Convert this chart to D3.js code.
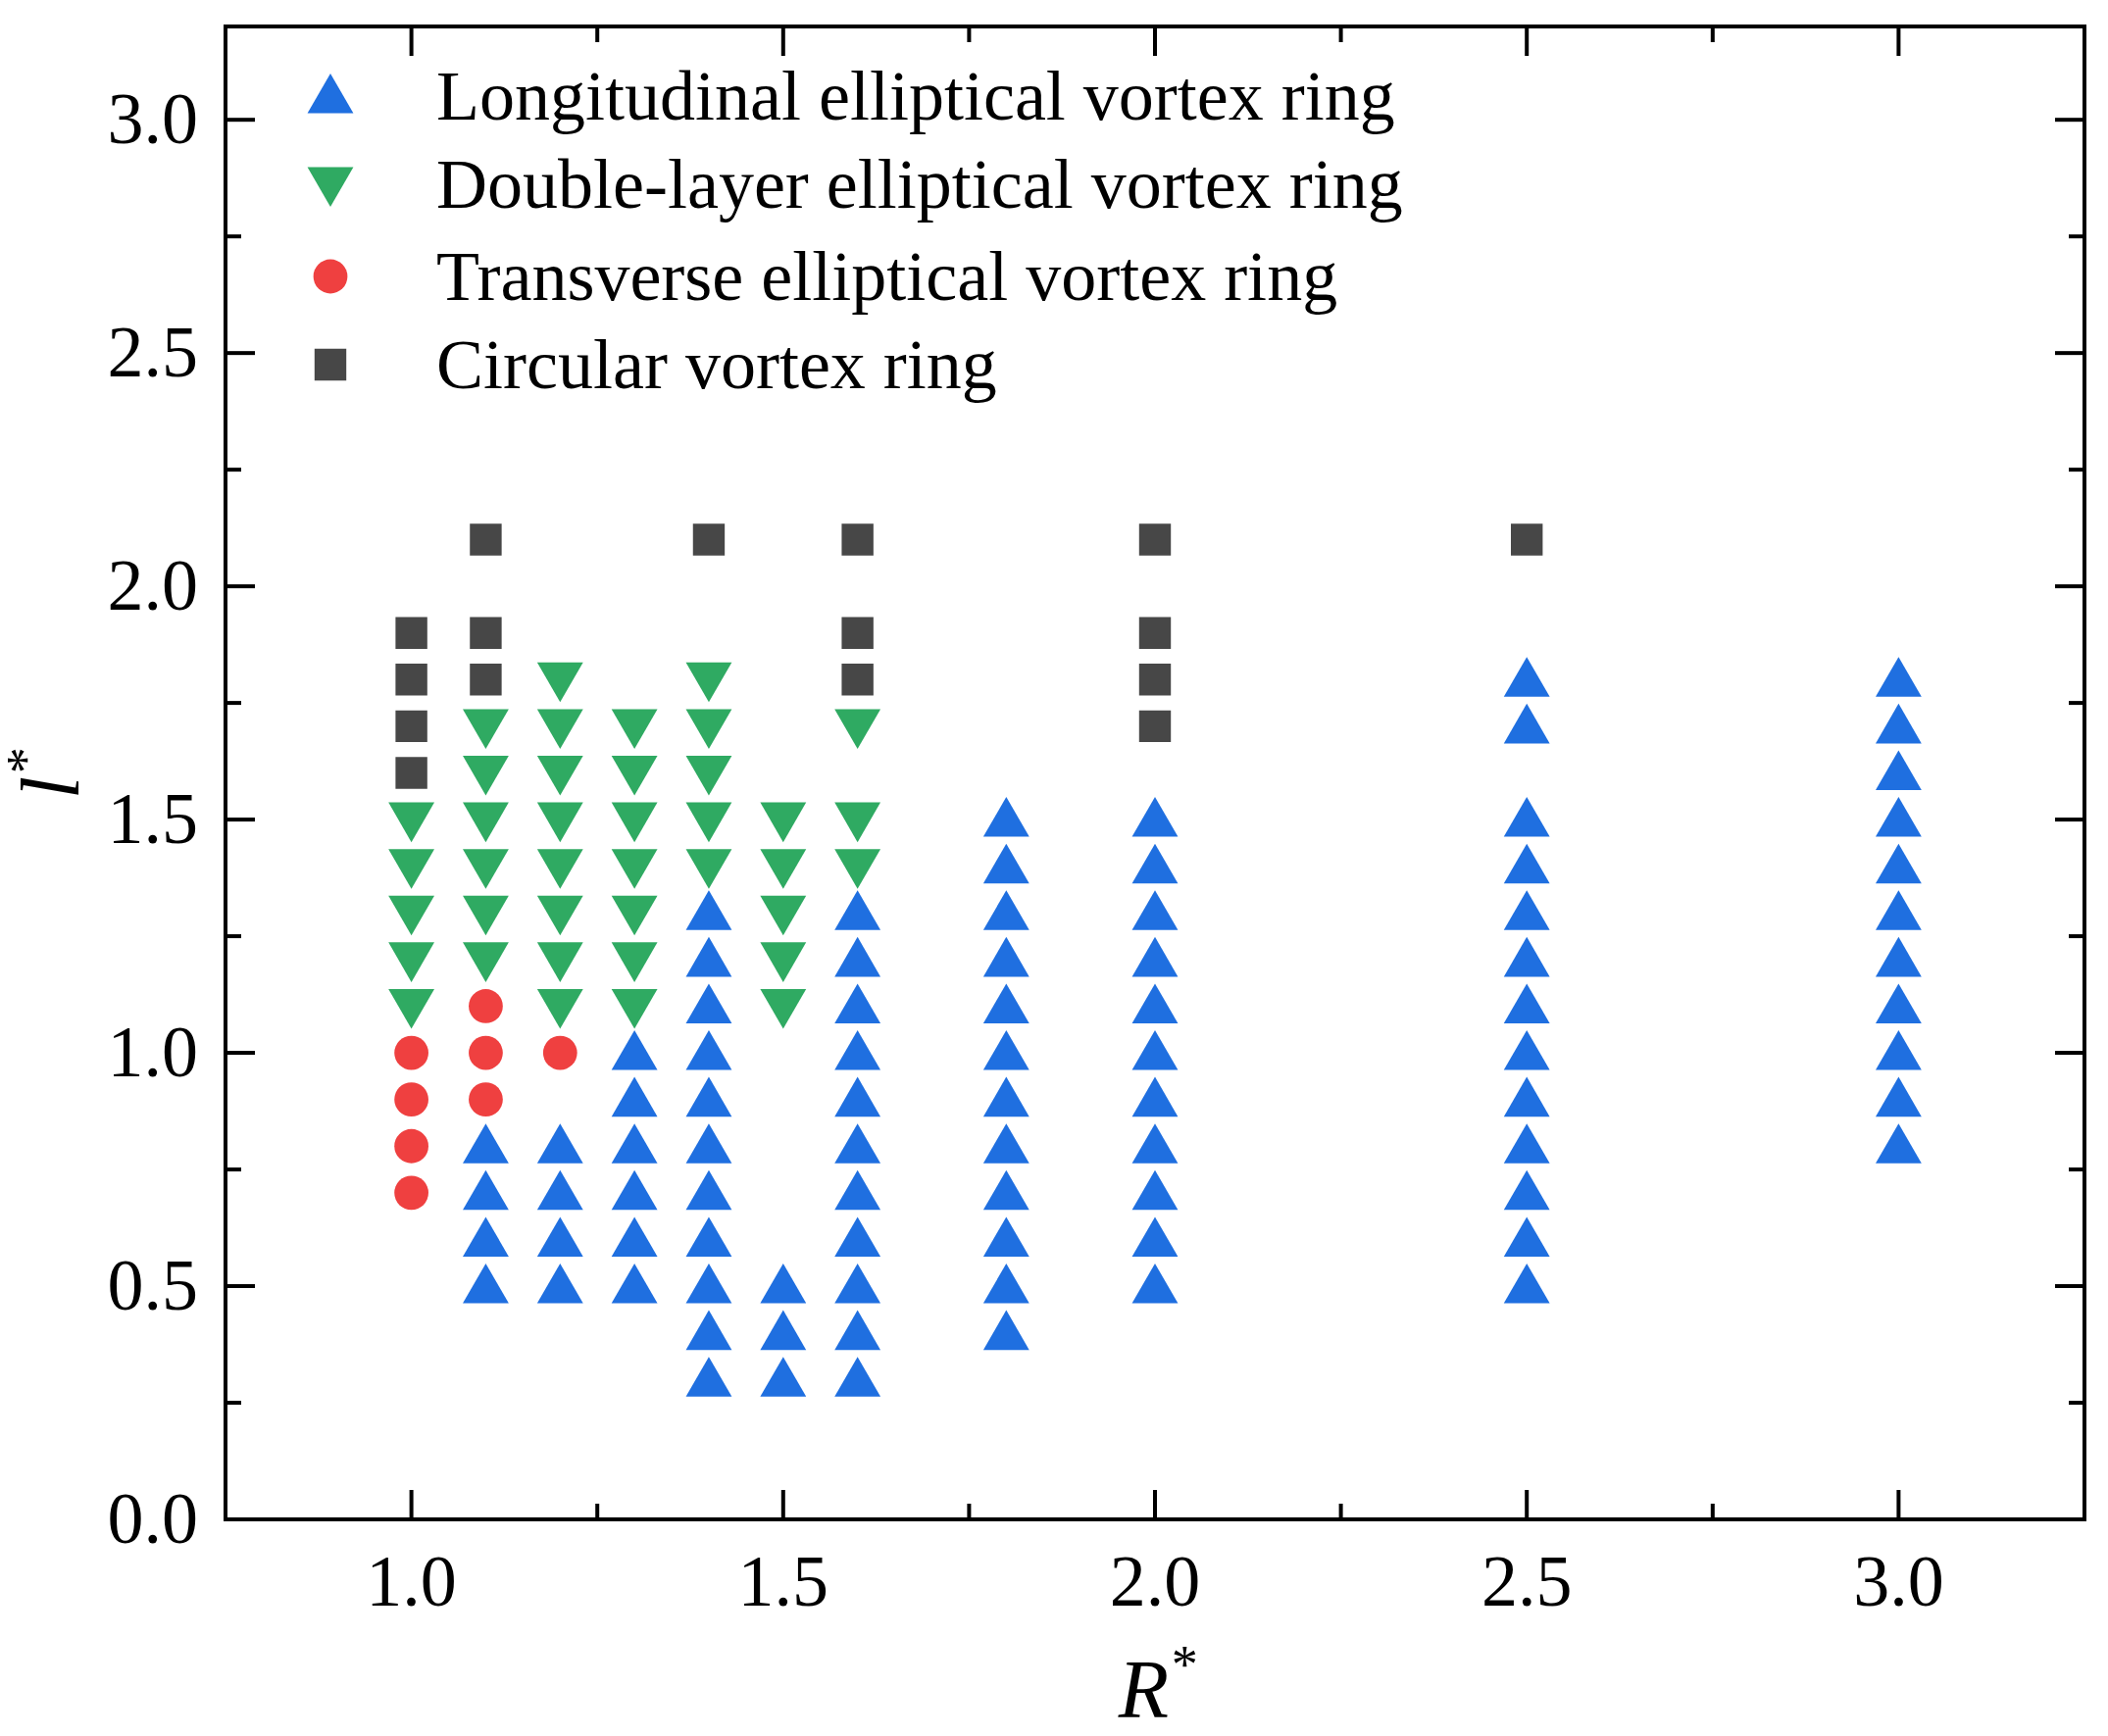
<!DOCTYPE html>
<html>
<head>
<meta charset="utf-8">
<script src="https://cdn.jsdelivr.net/npm/d3@7"></script>
<style>body{margin:0;background:#fff}</style>
</head>
<body>
<svg id="chart" width="2150" height="1771"></svg>
<script>
// [R*, l*] pairs for each regime
var longitudinal = [
  [1.1,0.5],[1.1,0.6],[1.1,0.7],[1.1,0.8],
  [1.2,0.5],[1.2,0.6],[1.2,0.7],[1.2,0.8],
  [1.3,0.5],[1.3,0.6],[1.3,0.7],[1.3,0.8],[1.3,0.9],[1.3,1.0],
  [1.4,0.3],[1.4,0.4],[1.4,0.5],[1.4,0.6],[1.4,0.7],[1.4,0.8],[1.4,0.9],[1.4,1.0],[1.4,1.1],[1.4,1.2],[1.4,1.3],
  [1.5,0.3],[1.5,0.4],[1.5,0.5],
  [1.6,0.3],[1.6,0.4],[1.6,0.5],[1.6,0.6],[1.6,0.7],[1.6,0.8],[1.6,0.9],[1.6,1.0],[1.6,1.1],[1.6,1.2],[1.6,1.3],
  [1.8,0.4],[1.8,0.5],[1.8,0.6],[1.8,0.7],[1.8,0.8],[1.8,0.9],[1.8,1.0],[1.8,1.1],[1.8,1.2],[1.8,1.3],[1.8,1.4],[1.8,1.5],
  [2.0,0.5],[2.0,0.6],[2.0,0.7],[2.0,0.8],[2.0,0.9],[2.0,1.0],[2.0,1.1],[2.0,1.2],[2.0,1.3],[2.0,1.4],[2.0,1.5],
  [2.5,0.5],[2.5,0.6],[2.5,0.7],[2.5,0.8],[2.5,0.9],[2.5,1.0],[2.5,1.1],[2.5,1.2],[2.5,1.3],[2.5,1.4],[2.5,1.5],[2.5,1.7],[2.5,1.8],
  [3.0,0.8],[3.0,0.9],[3.0,1.0],[3.0,1.1],[3.0,1.2],[3.0,1.3],[3.0,1.4],[3.0,1.5],[3.0,1.6],[3.0,1.7],[3.0,1.8]
];
var doubleLayer = [
  [1.0,1.1],[1.0,1.2],[1.0,1.3],[1.0,1.4],[1.0,1.5],
  [1.1,1.2],[1.1,1.3],[1.1,1.4],[1.1,1.5],[1.1,1.6],[1.1,1.7],
  [1.2,1.1],[1.2,1.2],[1.2,1.3],[1.2,1.4],[1.2,1.5],[1.2,1.6],[1.2,1.7],[1.2,1.8],
  [1.3,1.1],[1.3,1.2],[1.3,1.3],[1.3,1.4],[1.3,1.5],[1.3,1.6],[1.3,1.7],
  [1.4,1.4],[1.4,1.5],[1.4,1.6],[1.4,1.7],[1.4,1.8],
  [1.5,1.1],[1.5,1.2],[1.5,1.3],[1.5,1.4],[1.5,1.5],
  [1.6,1.4],[1.6,1.5],[1.6,1.7]
];
var transverse = [
  [1.0,0.7],[1.0,0.8],[1.0,0.9],[1.0,1.0],
  [1.1,0.9],[1.1,1.0],[1.1,1.1],
  [1.2,1.0]
];
var circular = [
  [1.0,1.6],[1.0,1.7],[1.0,1.8],[1.0,1.9],
  [1.1,1.8],[1.1,1.9],[1.1,2.1],
  [1.4,2.1],
  [1.6,1.8],[1.6,1.9],[1.6,2.1],
  [2.0,1.7],[2.0,1.8],[2.0,1.9],[2.0,2.1],
  [2.5,2.1]
];
var xTicks = [1.0, 1.5, 2.0, 2.5, 3.0];
var yTicks = [0.0, 0.5, 1.0, 1.5, 2.0, 2.5, 3.0];

var series = [
  {name:"Longitudinal elliptical vortex ring", data:longitudinal, color:"#1f6fe0", shape:"up"},
  {name:"Double-layer elliptical vortex ring", data:doubleLayer, color:"#2faa62", shape:"down"},
  {name:"Transverse elliptical vortex ring", data:transverse, color:"#ef4040", shape:"circle"},
  {name:"Circular vortex ring", data:circular, color:"#474747", shape:"square"}
];

var L = 230, R = 2126, T = 27, B = 1550;
var svg = d3.select("#chart");
var font = "'Liberation Serif', 'Times New Roman', serif";
var x = d3.scaleLinear().domain([0.75, 3.25]).range([L, R]);
var y = d3.scaleLinear().domain([0, 3.2]).range([B, T]);

function marker(shape) {
  if (shape == "up") return d3.symbol().type(d3.symbolTriangle).size(950)();
  if (shape == "down") return d3.symbol().type(d3.symbolTriangle).size(950)();
  if (shape == "circle") return d3.symbol().type(d3.symbolCircle).size(950)();
  return d3.symbol().type(d3.symbolSquare).size(1050)();
}
function tf(shape, px, py) {
  if (shape == "up") return "translate(" + px + "," + (py + 4) + ")";
  if (shape == "down") return "translate(" + px + "," + (py - 4) + ") rotate(180)";
  return "translate(" + px + "," + py + ")";
}

// ticks: inward on all four sides
function minorVals(d, step) { return d3.range(d[0], d[1] + 1e-9, step); }
var g = svg.append("g").attr("stroke", "#000").attr("stroke-width", 4);
minorVals([0.75, 3.25], 0.25).forEach(function(v) {
  var len = (Math.abs(v * 2 - Math.round(v * 2)) < 1e-6) ? 30 : 16;
  g.append("line").attr("x1", x(v)).attr("x2", x(v)).attr("y1", B).attr("y2", B - len);
  g.append("line").attr("x1", x(v)).attr("x2", x(v)).attr("y1", T).attr("y2", T + len);
});
minorVals([0, 3.2], 0.25).forEach(function(v) {
  var len = (Math.abs(v * 2 - Math.round(v * 2)) < 1e-6) ? 30 : 16;
  g.append("line").attr("y1", y(v)).attr("y2", y(v)).attr("x1", L).attr("x2", L + len);
  g.append("line").attr("y1", y(v)).attr("y2", y(v)).attr("x1", R).attr("x2", R - len);
});
svg.append("rect").attr("x", L).attr("y", T).attr("width", R - L).attr("height", B - T)
  .attr("fill", "none").attr("stroke", "#000").attr("stroke-width", 4);

svg.selectAll(".xt").data(xTicks).enter().append("text")
  .attr("x", function(d){return x(d);}).attr("y", B + 88)
  .attr("text-anchor", "middle").attr("font-family", font).attr("font-size", 74)
  .text(function(d){return d.toFixed(1);});
svg.selectAll(".yt").data(yTicks).enter().append("text")
  .attr("x", L - 28).attr("y", function(d){return y(d) + 24;})
  .attr("text-anchor", "end").attr("font-family", font).attr("font-size", 74)
  .text(function(d){return d.toFixed(1);});

// axis titles
var xt = svg.append("text").attr("x", 1180).attr("y", 1752).attr("text-anchor", "middle")
  .attr("font-family", font).attr("font-size", 84).attr("font-style", "italic");
xt.append("tspan").text("R");
xt.append("tspan").attr("dy", -36).attr("font-size", 54).text("*");
var yt = svg.append("text").attr("transform", "translate(80,790) rotate(-90)").attr("text-anchor", "middle")
  .attr("font-family", font).attr("font-size", 84).attr("font-style", "italic");
yt.append("tspan").text("l");
yt.append("tspan").attr("dy", -36).attr("font-size", 54).text("*");

// points
series.forEach(function(s) {
  svg.append("g").selectAll("path").data(s.data).enter().append("path")
    .attr("d", marker(s.shape))
    .attr("transform", function(d){return tf(s.shape, x(d[0]), y(d[1]));})
    .attr("fill", s.color);
});

// legend
var lg = svg.append("g").selectAll("g").data(series).enter().append("g")
  .attr("transform", function(d, i){return "translate(0," + [98,188,282,372][i] + ")";});
lg.append("path").attr("d", function(d){return marker(d.shape);})
  .attr("transform", function(d){return tf(d.shape, 337, 0);})
  .attr("fill", function(d){return d.color;});
lg.append("text").attr("x", 445).attr("y", 24).attr("font-family", font).attr("font-size", 72)
  .text(function(d){return d.name;});
</script>
</body>
</html>
